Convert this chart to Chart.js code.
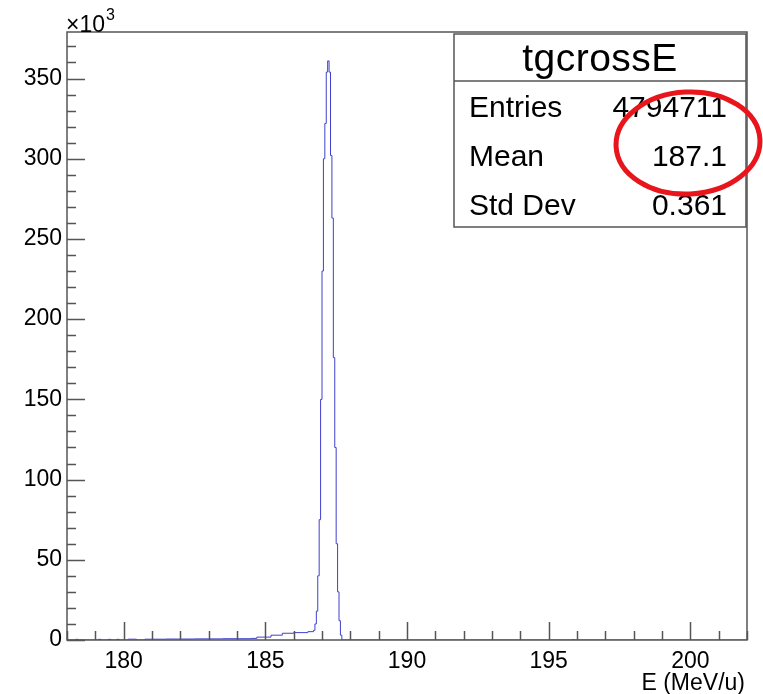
<!DOCTYPE html>
<html><head><meta charset="utf-8">
<script src="https://cdn.jsdelivr.net/npm/chart.js@4"></script>
<style>html,body{margin:0;padding:0;background:#fff;overflow:hidden}</style>
</head><body>
<canvas id="c" width="763" height="694"></canvas>
<script>
// Histogram outline: left bin edges (MeV/u) and counts (x10^3)
const binLowEdges = [178.0, 178.3, 178.4, 179.1, 179.2, 179.45, 179.55, 179.75, 179.85, 180.15, 180.45, 180.75, 181.5, 182.5, 183.5, 184.5, 184.7, 185.2, 185.6, 186.0, 186.5, 186.7, 186.75, 186.8, 186.85, 186.9, 186.95, 187.0, 187.05, 187.1, 187.15, 187.2, 187.25, 187.3, 187.35, 187.4, 187.45, 187.5, 187.55, 187.6, 187.65, 187.7, 195.85, 195.9, 202.0];
const countsK = [0, 0.4, 0, 0.4, 0, 0.4, 0, 0.4, 0, 0.5, 0, 0.5, 0.6, 0.7, 0.8, 1.0, 1.8, 3.0, 4.2, 4.6, 5.2, 6, 10, 18, 40, 75, 150, 230, 300, 322, 354, 361, 354, 302, 263, 176, 120, 60, 30, 12, 3, 0, 0.3, 0, 0];

const xRange = [178, 202];
const yRange = [0, 379];
const xMajorStep = 5, xMinorStep = 1;
const yMajorStep = 50, yMinorStep = 10;
const xAxisTitle = 'E (MeV/u)';
const yExponent = '3';
const statsTitle = 'tgcrossE';
const statsNames = ['Entries', 'Mean', 'Std Dev'];
const statsValues = ['4794711', '187.1', '0.361'];

const FONT = '"Liberation Sans", Arial, Helvetica, sans-serif';
const AXIS = '#555555';

const overlay = {
  id: 'overlay',
  afterDraw(chart) {
    const {ctx, chartArea: a, scales: {x, y}} = chart;
    ctx.save();
    ctx.strokeStyle = AXIS;
    ctx.lineWidth = 1.5;
    // inward tick marks
    ctx.beginPath();
    for (let v = xRange[0]; v <= xRange[1] + 1e-9; v += xMinorStep) {
      const px = Math.round(x.getPixelForValue(v)) + 0.5;
      const len = (Math.abs(v % xMajorStep) < 1e-9) ? 18 : 9;
      ctx.moveTo(px, a.bottom); ctx.lineTo(px, a.bottom - len);
    }
    for (let v = yRange[0]; v <= yRange[1] + 1e-9; v += yMinorStep) {
      const py = Math.round(y.getPixelForValue(v)) + 0.5;
      const len = (Math.abs(v % yMajorStep) < 1e-9) ? 18 : 9;
      ctx.moveTo(a.left, py); ctx.lineTo(a.left + len, py);
    }
    ctx.stroke();
    // frame
    ctx.strokeRect(a.left, a.top, a.right - a.left, a.bottom - a.top);

    // x10^3
    ctx.fillStyle = '#000';
    ctx.textAlign = 'left';
    ctx.textBaseline = 'alphabetic';
    ctx.font = '23px ' + FONT;
    ctx.fillText('\u00d710', a.left - 1, 32);
    const w = ctx.measureText('\u00d710').width;
    ctx.font = '16px ' + FONT;
    ctx.fillText(yExponent, a.left + w, 20);

    // x-axis title
    ctx.font = '23px ' + FONT;
    ctx.textAlign = 'right';
    ctx.fillText(xAxisTitle, 745, 690);

    // stats box
    const bx = 454, by = 34, bw = 292, bh = 193;
    ctx.fillStyle = '#fff';
    ctx.fillRect(bx, by, bw, bh);
    ctx.strokeStyle = '#555';
    ctx.lineWidth = 1.5;
    ctx.strokeRect(bx, by, bw, bh);
    ctx.beginPath();
    ctx.moveTo(bx, 81); ctx.lineTo(bx + bw, 81);
    ctx.stroke();
    ctx.fillStyle = '#000';
    ctx.textAlign = 'center';
    ctx.font = '39px ' + FONT;
    if ('letterSpacing' in ctx) ctx.letterSpacing = '0.5px';
    ctx.fillText(statsTitle, 600, 71);
    if ('letterSpacing' in ctx) ctx.letterSpacing = '0px';
    ctx.font = '30px ' + FONT;
    const baselines = [117, 166, 215];
    statsNames.forEach((n, i) => {
      ctx.textAlign = 'left';
      ctx.fillText(n, 469, baselines[i]);
      ctx.textAlign = 'right';
      ctx.fillText(statsValues[i], 727, baselines[i]);
    });

    // red ellipse annotation
    ctx.strokeStyle = '#e8161c';
    ctx.lineWidth = 5;
    ctx.beginPath();
    ctx.ellipse(688, 143, 72, 51, -0.05, 0, Math.PI * 2);
    ctx.stroke();
    ctx.restore();
  }
};

new Chart(document.getElementById('c').getContext('2d'), {
  type: 'line',
  data: {
    datasets: [{
      data: binLowEdges.map((e, i) => ({x: e, y: countsK[i]})),
      stepped: true,
      borderColor: '#4040cc',
      borderWidth: 1,
      pointRadius: 0,
      fill: false,
      tension: 0
    }]
  },
  options: {
    responsive: false,
    animation: false,
    devicePixelRatio: 1,
    layout: {padding: {top: 32, right: 16, left: 0, bottom: 0}},
    plugins: {legend: {display: false}, tooltip: {enabled: false}, title: {display: false}},
    scales: {
      x: {
        type: 'linear', min: xRange[0], max: xRange[1],
        grid: {display: false, drawTicks: false},
        border: {display: false},
        ticks: {stepSize: xMajorStep, includeBounds: false, color: '#000', font: {family: FONT, size: 23}, padding: 8, maxRotation: 0, autoSkip: false},
        afterFit: s => { s.height = 54; }
      },
      y: {
        type: 'linear', min: yRange[0], max: yRange[1],
        grid: {display: false, drawTicks: false},
        border: {display: false},
        ticks: {stepSize: yMajorStep, includeBounds: false, color: '#000', font: {family: FONT, size: 23}, padding: 5, autoSkip: false},
        afterFit: s => { s.width = 67; }
      }
    }
  },
  plugins: [overlay]
});
</script>
</body></html>
